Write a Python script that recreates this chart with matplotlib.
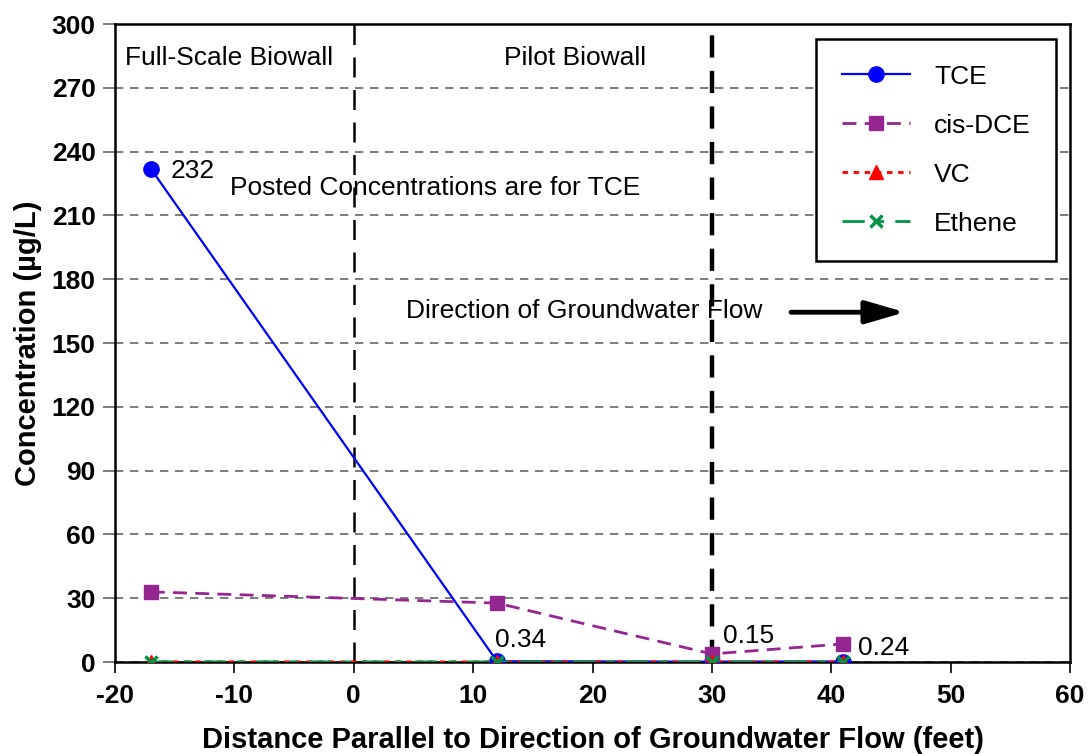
import matplotlib
matplotlib.use('Agg')
import matplotlib.pyplot as plt

# data
distance = [-17, 12, 30, 41]
tce = [232, 0.34, 0.15, 0.24]
cis_dce = [33, 27.7, 3.8, 8.5]
vc = [0.1, 0.05, 0.05, 0.05]
ethene = [0.1, 0.05, 0.05, 0.05]
posted = ['232', '0.34', '0.15', '0.24']
posted_xy = [(-15.3, 231), (11.8, 10.5), (30.9, 12), (42.2, 6.5)]

plt.rcParams['font.family'] = ['Liberation Sans', 'DejaVu Sans']
plt.rcParams['axes.unicode_minus'] = False

fig = plt.figure(figsize=(10.88, 7.54), dpi=100)
ax = fig.add_axes([0.1057, 0.122, 0.8778, 0.846])

ax.set_xlim(-20, 60)
ax.set_ylim(0, 300)
ax.set_xticks(range(-20, 61, 10))
ax.set_yticks(range(0, 301, 30))

ax.yaxis.grid(True, linestyle=(0, (5, 4)), color='#666666', linewidth=1.2)
ax.set_axisbelow(True)
ax.tick_params(axis='y', direction='out', length=9, color='#666666', width=1.2,
               labelsize=19, pad=5)
ax.tick_params(axis='x', direction='out', length=8, width=1.2, labelsize=19, pad=8)
for lab in ax.get_xticklabels() + ax.get_yticklabels():
    lab.set_fontweight('bold')
for s in ax.spines.values():
    s.set_linewidth(1.8)

ax.axvline(0, color='black', linestyle=(0, (8, 5)), linewidth=1.8, zorder=1)
ax.axvline(30, color='black', linestyle=(0, (5, 3)), linewidth=3.2, zorder=1)

ax.plot(distance, tce, color='#0000ff', linestyle='-', marker='o', markersize=11,
        linewidth=1.6, label='TCE', zorder=3)
ax.plot(distance, cis_dce, color='#93278f', linestyle=(0, (5, 3)), marker='s', markersize=10.5,
        linewidth=2, label='cis-DCE', zorder=3)
ax.plot(distance, vc, color='#ff0000', linestyle=(0, (2, 2)), marker='^', markersize=10,
        linewidth=2, label='VC', zorder=4)
ax.plot(distance, ethene, color='#009245', linestyle=(0, (8, 4, 3, 4)), marker='x', markersize=9,
        markeredgewidth=2.5, linewidth=2, label='Ethene', zorder=5)

for txt, (x, y) in zip(posted, posted_xy):
    ax.text(x, y, txt, fontsize=19, va='center', ha='left')

ax.text(-19.2, 284, 'Full-Scale Biowall', fontsize=19, va='center', ha='left')
ax.text(18.5, 284, 'Pilot Biowall', fontsize=19, va='center', ha='center')
ax.text(-10.4, 223, 'Posted Concentrations are for TCE', fontsize=19, va='center', ha='left')
ax.text(4.4, 165, 'Direction of Groundwater Flow', fontsize=19, va='center', ha='left')
ax.annotate('', xy=(46.4, 164.5), xytext=(36.4, 164.5),
            arrowprops=dict(arrowstyle='-|>,head_length=1.2,head_width=0.35',
                            color='black', lw=3.5, mutation_scale=20))

leg = ax.legend(loc='upper right', bbox_to_anchor=(0.985, 0.976), fontsize=19,
                handlelength=2.6, labelspacing=0.95, borderpad=0.95, handletextpad=0.9,
                borderaxespad=0, fancybox=False, framealpha=1, edgecolor='black')
leg.get_frame().set_linewidth(1.8)

ax.set_xlabel('Distance Parallel to Direction of Groundwater Flow (feet)', fontsize=21,
              fontweight='bold', labelpad=13)
ax.set_ylabel('Concentration (µg/L)', fontsize=21, fontweight='bold', labelpad=7)

fig.savefig('out.png', dpi=100)
